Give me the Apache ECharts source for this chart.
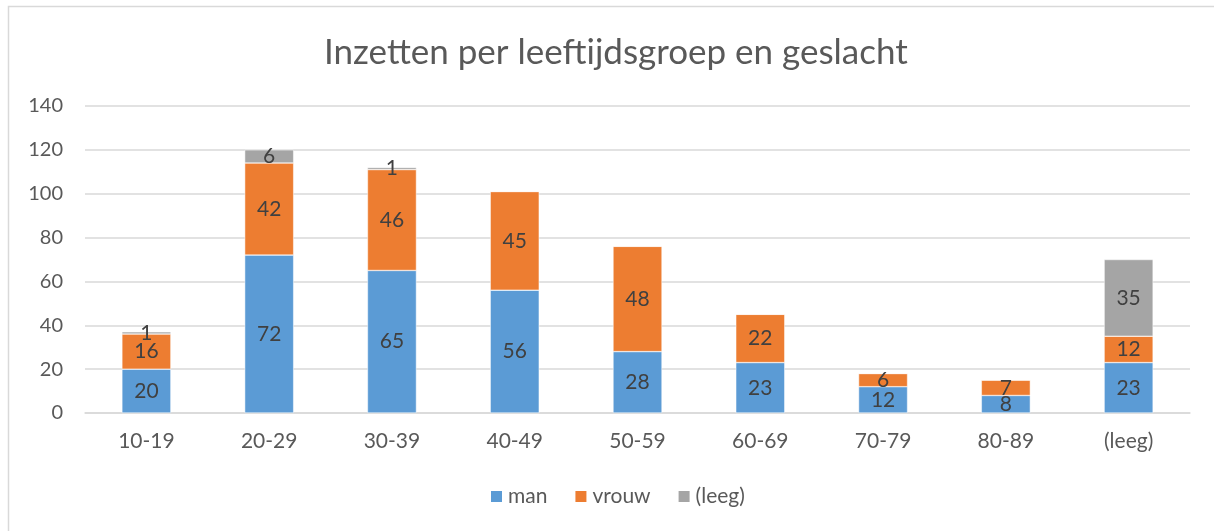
<!DOCTYPE html>
<html>
<head>
<meta charset="utf-8">
<script src="https://cdn.jsdelivr.net/npm/echarts@6/dist/echarts.min.js"></script>
<style>
  html, body { margin: 0; padding: 0; background: #fff; overflow: hidden; }
  #main { width: 1214px; height: 531px; }
</style>
</head>
<body>
<div id="main"></div>
<script>
// categorieen en waarden
var categories = ['10-19', '20-29', '30-39', '40-49', '50-59', '60-69', '70-79', '80-89', '(leeg)'];
var man = [20, 72, 65, 56, 28, 23, 12, 8, 23];
var vrouw = [16, 42, 46, 45, 48, 22, 6, 7, 12];
var leeg = [1, 6, 1, 0, 0, 0, 0, 0, 35];
var yTicks = [0, 20, 40, 60, 80, 100, 120, 140];

window.onload = function () {
  var myChart = echarts.init(document.getElementById('main'));
  var font = 'Lato, "Open Sans", sans-serif';

  function labelCfg() {
    return {
      show: true,
      position: 'inside',
      color: '#404040',
      fontSize: 21,
      fontFamily: font,
      formatter: function (p) { return p.value ? p.value : ''; }
    };
  }

  var option = {
    textStyle: { fontFamily: font },
    graphic: [{
      type: 'rect',
      shape: { x: 8.5, y: 6.5, width: 1300, height: 600 },
      style: { fill: 'none', stroke: '#d9d9d9', lineWidth: 1.5 },
      silent: true
    }],
    title: {
      text: 'Inzetten per leeftijdsgroep en geslacht',
      left: 319,
      top: 30,
      textStyle: { color: '#595959', fontSize: 35, fontWeight: 'normal', fontFamily: font }
    },
    legend: {
      data: ['man', 'vrouw', '(leeg)'],
      bottom: 19,
      left: 484,
      icon: 'rect',
      itemWidth: 13,
      itemHeight: 13,
      itemGap: 26,
      textStyle: { color: '#595959', fontSize: 21, fontFamily: font }
    },
    grid: { left: 85, right: 24, top: 106, bottom: 118 },
    xAxis: {
      type: 'category',
      data: categories,
      axisLine: { lineStyle: { color: '#d9d9d9', width: 1.5 } },
      axisTick: { show: false },
      axisLabel: { color: '#595959', fontSize: 21, margin: 18, fontFamily: font }
    },
    yAxis: {
      type: 'value',
      min: yTicks[0],
      max: yTicks[yTicks.length - 1],
      interval: 20,
      axisLine: { show: false },
      axisTick: { show: false },
      splitLine: { lineStyle: { color: '#d9d9d9', width: 1.5 } },
      axisLabel: { color: '#595959', fontSize: 20, margin: 22, fontFamily: font }
    },
    color: ['#5b9bd5', '#ed7d31', '#a5a5a5'],
    series: [
      { name: 'man', type: 'bar', stack: 'a', data: man, barWidth: 49, label: labelCfg(),
        itemStyle: { borderColor: '#ffffff', borderWidth: 0.5 } },
      { name: 'vrouw', type: 'bar', stack: 'a', data: vrouw, barWidth: 49, label: labelCfg(),
        itemStyle: { borderColor: '#ffffff', borderWidth: 0.5 } },
      { name: '(leeg)', type: 'bar', stack: 'a', data: leeg, barWidth: 49, label: labelCfg(),
        itemStyle: { borderColor: '#ffffff', borderWidth: 0.5 } }
    ]
  };
  myChart.setOption(option);
};
</script>
</body>
</html>
